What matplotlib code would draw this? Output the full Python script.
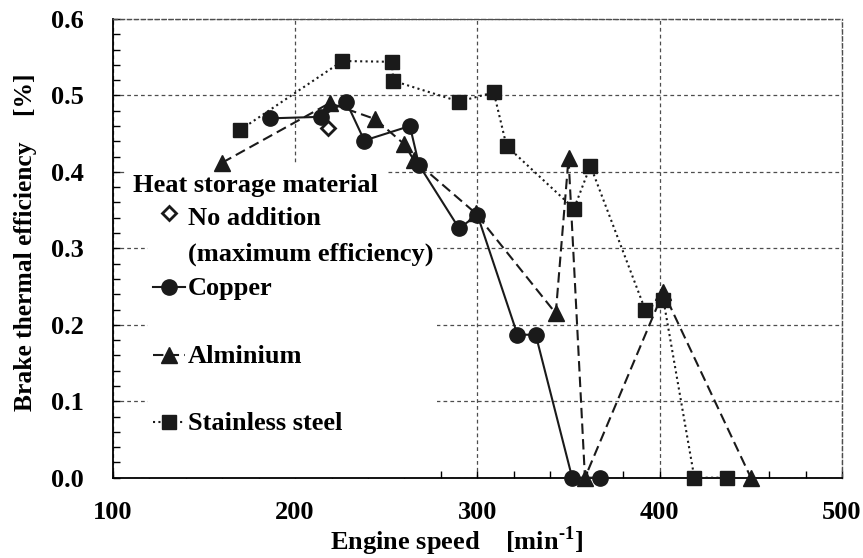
import matplotlib
matplotlib.use("Agg")
import matplotlib.pyplot as plt
from matplotlib.patches import Rectangle
from matplotlib.ticker import MultipleLocator, FormatStrFormatter

plt.rcParams['font.family'] = ['Liberation Serif', 'DejaVu Serif']
plt.rcParams['font.weight'] = 'bold'
plt.rcParams['mathtext.fontset'] = 'custom'
plt.rcParams['mathtext.rm'] = 'Liberation Serif:bold'
plt.rcParams['mathtext.bf'] = 'Liberation Serif:bold'

# Engine speed [min-1] and brake thermal efficiency [%]
copper_x = [186, 214, 228, 238, 263, 268, 290, 300, 322, 332, 352, 367]
copper_y = [0.470, 0.472, 0.492, 0.441, 0.460, 0.409, 0.326, 0.344, 0.187, 0.187, 0.0, 0.0]

alum_x = [160, 219, 244, 260, 265, 299, 343, 350, 359, 402, 450]
alum_y = [0.412, 0.490, 0.469, 0.436, 0.416, 0.346, 0.215, 0.418, 0.0, 0.243, 0.0]

steel_x = [170, 226, 253, 254, 290, 309, 316, 353, 362, 392, 402, 419, 437]
steel_y = [0.455, 0.545, 0.544, 0.519, 0.492, 0.504, 0.434, 0.352, 0.408, 0.220, 0.233, 0.0, 0.0]

noadd_x = [218]
noadd_y = [0.458]

legend_title = "Heat storage material"
legend_labels = ["No addition", "(maximum efficiency)", "Copper", "Alminium", "Stainless steel"]

FS = 19
DARK = '#1a1a1a'
GRID = '#4d4d4d'

fig = plt.figure(figsize=(8.63, 5.58), dpi=100)
ax = fig.add_axes([0.1306, 0.1439, 0.8451, 0.8221])
ax.set_axisbelow(True)

line_kw = dict(color=DARK, lw=1.5, zorder=3, clip_on=False)
ax.plot(steel_x, steel_y, marker='s', ms=10.5, linestyle=(0, (1, 1.6)), **line_kw)
ax.plot(alum_x, alum_y, marker='^', ms=11, linestyle=(0, (5, 2.5)), **line_kw)
ax.plot(copper_x, copper_y, marker='o', ms=11, linestyle='-', **line_kw)
ax.plot(noadd_x, noadd_y, marker='D', ms=7, mfc='white', mec=DARK, mew=2,
        linestyle='none', zorder=4)

ax.set_xlim(100, 500)
ax.set_ylim(0, 0.6)
ax.xaxis.set_major_locator(MultipleLocator(100))
ax.xaxis.set_minor_locator(MultipleLocator(20))
ax.yaxis.set_major_locator(MultipleLocator(0.1))
ax.yaxis.set_minor_locator(MultipleLocator(0.02))
ax.yaxis.set_major_formatter(FormatStrFormatter('%.1f'))
ax.tick_params(which='both', direction='in', length=5, width=1, color='black',
               top=False, right=False, labelsize=FS)
ax.tick_params(axis='x', which='major', pad=17)
ax.tick_params(axis='y', which='major', pad=21)

ax.grid(True, which='major', color=GRID, linestyle=(0, (3, 2.5)), linewidth=0.9)

for side in ['left', 'bottom']:
    ax.spines[side].set_linewidth(1.3)
    ax.spines[side].set_color('black')
for side in ['top', 'right']:
    ax.spines[side].set_color(GRID)
    ax.spines[side].set_linestyle((0, (3, 2)))
    ax.spines[side].set_linewidth(1.0)

ax.set_xlabel(r"Engine speed    [min$^{\text{-1}}$]", fontsize=FS, fontweight='bold')
ax.xaxis.set_label_coords(0.472, -0.102)
ax.set_ylabel("Brake thermal efficiency    [%]", fontsize=18.4, fontweight='bold')
ax.yaxis.set_label_coords(-0.104, 0.513)

# white boxes behind the legend text (they hide the grid)
ax.add_patch(Rectangle((0.017, 0.605), 0.36, 0.077, transform=ax.transAxes,
                       facecolor='white', edgecolor='none', zorder=1))
ax.add_patch(Rectangle((0.048, 0.0), 0.397, 0.605, transform=ax.transAxes,
                       facecolor='white', edgecolor='none', zorder=1))

# legend, laid out by hand
tx = 0.1035
ax.text(0.028, 0.6228, legend_title, transform=ax.transAxes, fontsize=FS,
        fontweight='bold', va='baseline', zorder=5)
label_y = [0.5509, 0.4724, 0.3983, 0.2501, 0.1040]
for lab, yy in zip(legend_labels, label_y):
    ax.text(tx, yy, lab, transform=ax.transAxes, fontsize=FS,
            fontweight='bold', va='baseline', zorder=5)

hx0, hx1, hxc = 0.0553, 0.0992, 0.0774
ax.plot([hxc], [0.5777], transform=ax.transAxes, marker='D', ms=7, mfc='white',
        mec=DARK, mew=2, linestyle='none', clip_on=False, zorder=5)
handles = [('o', '-', 0.4164), ('^', (0, (5, 2.5)), 0.2675), ('s', (0, (1, 1.6)), 0.1221)]
for mk, ls, yy in handles:
    ax.plot([hx0, hx1], [yy, yy], transform=ax.transAxes, color=DARK, lw=1.5,
            linestyle=ls, clip_on=False, zorder=5)
    ax.plot([hxc], [yy], transform=ax.transAxes, marker=mk, ms=11 if mk != 's' else 10.5,
            color=DARK, linestyle='none', clip_on=False, zorder=5)

fig.savefig("out.png", dpi=100)
